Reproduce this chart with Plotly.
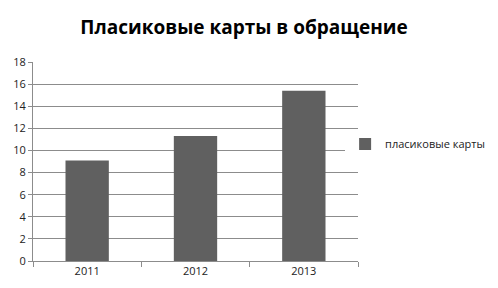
import plotly.graph_objects as go

years = ["2011", "2012", "2013"]
cards = [9.1, 11.3, 15.4]
series_name = "пласиковые карты"
title_text = "Пласиковые карты в обращение"

fig = go.Figure()
fig.add_trace(go.Bar(x=years, y=cards, name=series_name, marker_color="#606060",
                     marker_line_width=0, showlegend=True))

fig.update_layout(
    width=498, height=288,
    margin=dict(l=33, r=140, t=62, b=27, autoexpand=False),
    paper_bgcolor="white", plot_bgcolor="white",
    title=dict(text="<b>" + title_text + "</b>", x=0.49, xanchor="center", y=0.905, yanchor="middle",
               font=dict(family="Open Sans, DejaVu Sans, sans-serif", size=19, color="black")),
    bargap=0.6,
    font=dict(family="Open Sans, DejaVu Sans, sans-serif", size=11, color="#222"),
    legend=dict(xref="container", yref="container", x=0.693, xanchor="left",
                y=0.5, yanchor="middle",
                font=dict(size=11, color="#222"), itemwidth=30),
    showlegend=True,
)
fig.update_yaxes(range=[0, 18], dtick=2, showgrid=True, gridcolor="#8c8c8c", gridwidth=1,
                 showline=True, linecolor="#8c8c8c", ticks="outside", ticklen=4,
                 tickcolor="#8c8c8c", zeroline=False, fixedrange=True)
fig.update_xaxes(showline=True, linecolor="#8c8c8c", ticks="outside", ticklen=5,
                 tickcolor="#8c8c8c", tickson="boundaries", showgrid=False)

fig.write_html("out.html")
